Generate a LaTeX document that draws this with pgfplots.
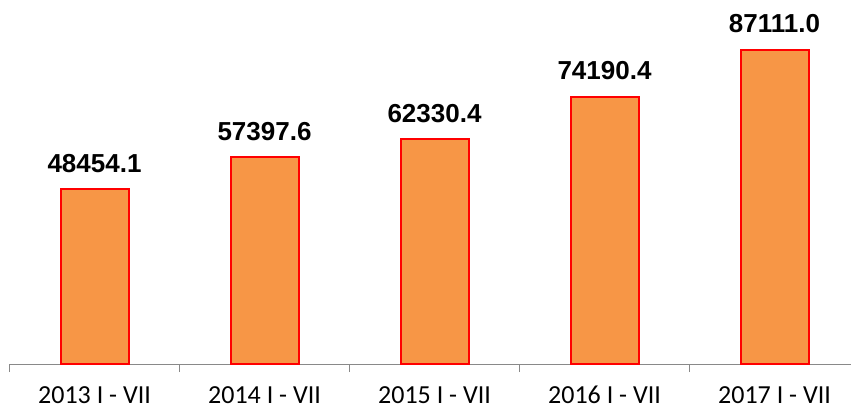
\documentclass[border=0pt]{standalone}
\usepackage{fontspec}
\setmainfont{Carlito}
\newfontfamily\lab{Liberation Sans}
\usepackage{pgfplots}
\pgfplotsset{compat=1.18}
\definecolor{barfill}{RGB}{247,150,70}
\definecolor{axgray}{RGB}{137,137,137}
\begin{document}
\begin{tikzpicture}
\useasboundingbox (0,0) rectangle (851bp,408bp);
\begin{axis}[
  at={(9.5bp,44bp)}, anchor=south west,
  scale only axis,
  width=841.5bp, height=364bp,
  xmin=-0.5, xmax=4.45,
  ymin=0, ymax=100970,
  hide y axis,
  axis x line=bottom,
  x axis line style={-, draw=axgray, line width=0.8bp},
  xtick={0,1,2,3,4},
  xticklabels={2013 I - VII,2014 I - VII,2015 I - VII,2016 I - VII,2017 I - VII},
  major x tick style={draw=none},
  extra x ticks={-0.5,0.5,1.5,2.5,3.5},
  extra x tick labels={},
  extra x tick style={major tick length=8bp, tick align=outside, major x tick style={draw=axgray, line width=0.8bp}},
  xticklabel style={font=\fontsize{26bp}{30bp}\selectfont, anchor=base, yshift=-35bp},
  ybar, bar width=68bp,
  clip=false,
  nodes near coords,
  nodes near coords style={font=\lab\bfseries\fontsize{26bp}{30bp}\selectfont, anchor=base, yshift=17bp,
    /pgf/number format/.cd, fixed, fixed zerofill, precision=1, 1000 sep={}, assume math mode=true},
]
\addplot[fill=barfill, draw=red, line width=2bp] coordinates {
  (0,48454.1) (1,57397.6) (2,62330.4) (3,74190.4) (4,87111.0)
};
\end{axis}
\end{tikzpicture}
\end{document}
